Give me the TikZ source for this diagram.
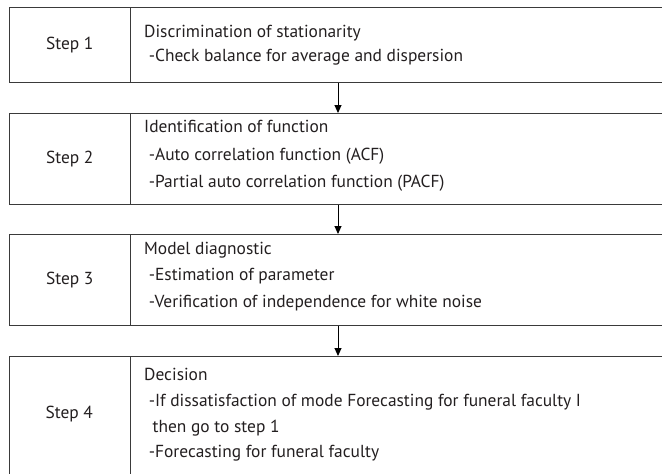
\documentclass[tikz,border=0pt]{standalone}
\usepackage{fontspec}
\setmainfont{PT Sans}
\usetikzlibrary{arrows.meta,calc}
\definecolor{ink}{HTML}{231F20}
\definecolor{rule}{HTML}{3A3A3A}
\begin{document}
\begin{tikzpicture}[x=1pt,y=1pt,
  cellbox/.style={draw=rule,line width=1.1pt,rectangle,inner sep=0pt,anchor=north west},
  steplabel/.style={font=\fontsize{17.4}{20}\selectfont,text=ink},
  bodytext/.style={text=ink,align=left,anchor=west,inner sep=0pt},
  flow/.style={draw=black,line width=1pt,-{Triangle[length=8pt,width=7pt]}}]
\useasboundingbox (0,0) rectangle (662,-474);
\clip (0,0) rectangle (662,-474);
\fill[white] (0,0) rectangle (662,-474);
% column coordinate for the arrows
\coordinate (ax) at (338,0);
% Step 1
\node[cellbox,minimum width=121.5pt,minimum height=75pt] (s1) at (8.5,-7) {};
\node[cellbox,minimum width=570pt,minimum height=75pt] (t1) at (130,-7) {};
\node[steplabel] (l1) at (s1.center) {Step 1};
\node[bodytext,font=\fontsize{17.4}{24}\selectfont] (b1) at (144,-45) {Discrimination of stationarity\\\ -Check balance for average and dispersion};
% Step 2
\node[cellbox,minimum width=121.5pt,minimum height=91pt] (s2) at (8.5,-113) {};
\node[cellbox,minimum width=570pt,minimum height=91pt] (t2) at (130,-113) {};
\node[steplabel] (l2) at (s2.center) {Step 2};
\node[bodytext,font=\fontsize{17.4}{27.5}\selectfont] (b2) at (144,-156) {Identification of function\\\ -Auto correlation function (ACF)\\\ -Partial auto correlation function (PACF)};
% Step 3
\node[cellbox,minimum width=121.5pt,minimum height=91pt] (s3) at (8.5,-234) {};
\node[cellbox,minimum width=570pt,minimum height=91pt] (t3) at (130,-234) {};
\node[steplabel] (l3) at (s3.center) {Step 3};
\node[bodytext,font=\fontsize{17.4}{26.5}\selectfont] (b3) at (144,-276.5) {Model diagnostic\\\ -Estimation of parameter\\\ -Verification of independence for white noise};
% Step 4
\node[cellbox,minimum width=121.5pt,minimum height=130pt] (s4) at (8.5,-356) {};
\node[cellbox,minimum width=570pt,minimum height=130pt] (t4) at (130,-356) {};
\node[steplabel] (l4) at (69.25,-414) {Step 4};
\node[bodytext,font=\fontsize{17.4}{25.7}\selectfont] (b4) at (144,-415) {Decision\\\ -If dissatisfaction of mode Forecasting for funeral faculty I\\\hspace*{8.5pt}then go to step 1\\\ -Forecasting for funeral faculty};
% connectors
\draw[flow] (t1.south -| ax) -- (t2.north -| ax);
\draw[flow] (t2.south -| ax) -- (t3.north -| ax);
\draw[flow] (t3.south -| ax) -- (t4.north -| ax);
\end{tikzpicture}
\end{document}
